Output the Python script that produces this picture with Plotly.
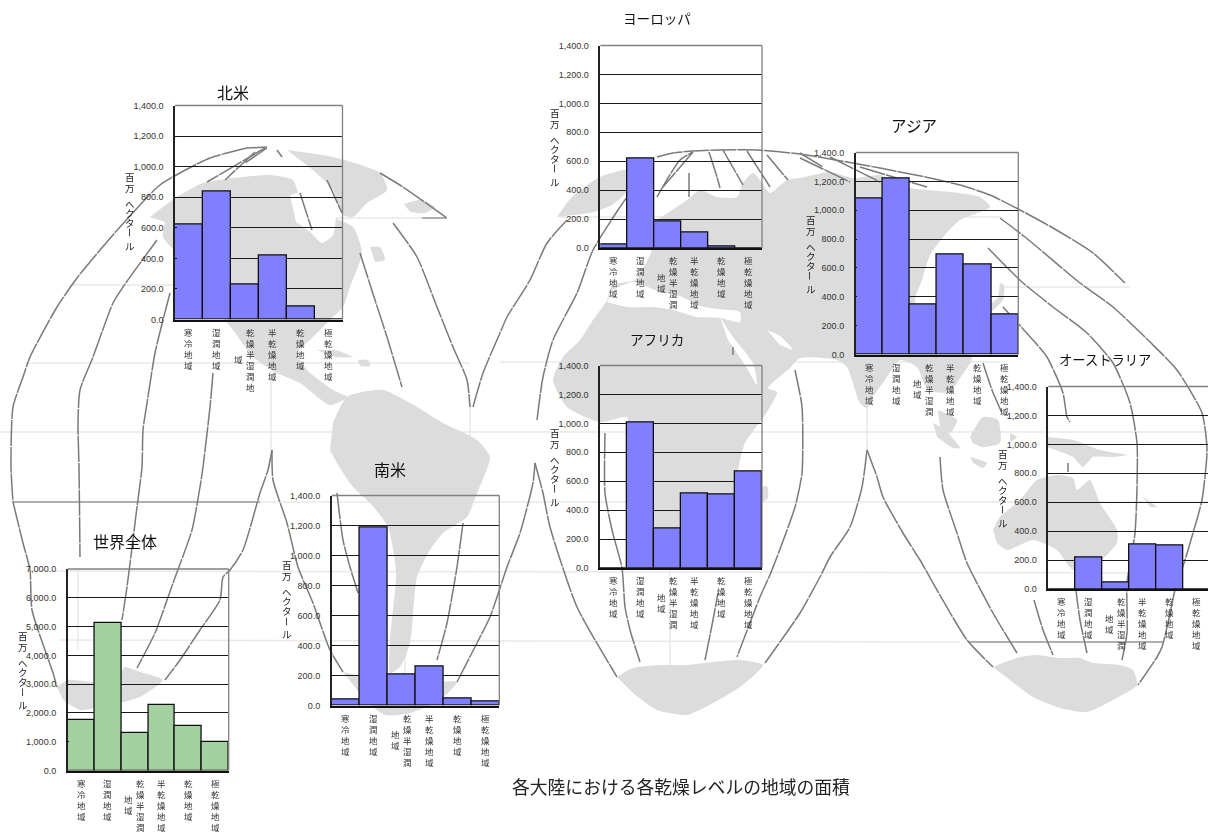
import plotly.graph_objects as go

FIG_W, FIG_H = 1208, 832

# Aridity classes shared by every panel
CATEGORIES = ["寒冷地域", "湿潤地域", "乾燥半湿潤地域", "半乾燥地域", "乾燥地域", "極乾燥地域"]

# Area per class, million hectares
WORLD = [1760, 5110, 1290, 2290, 1560, 990]
NORTH_AMERICA = [620, 835, 230, 420, 85, 0]
SOUTH_AMERICA = [40, 1190, 205, 260, 45, 25]
EUROPE = [25, 620, 185, 105, 10, 0]
ASIA = [1080, 1220, 350, 695, 625, 280]
AFRICA = [0, 1005, 270, 515, 505, 670]
AUSTRALIA = [0, 215, 45, 305, 300, 0]

CONTINENT_TICKS = [0, 200, 400, 600, 800, 1000, 1200, 1400]
WORLD_TICKS = [0, 1000, 2000, 3000, 4000, 5000, 6000, 7000]
AXIS_TITLE = "百万  ヘクタール"
CAPTION = "各大陸における各乾燥レベルの地域の面積"

BLUE = "#8080FF"
GREEN = "#A3D1A0"
LAND = "#DCDCDC"

# name, values, ticks, colour, box (left, top, right, bottom in px), title centre, title size, first wrap length
PANELS = [
    ("北米", NORTH_AMERICA, CONTINENT_TICKS, BLUE, (175, 105.5, 342.5, 319.5), (233, 92), 16, 6),
    ("世界全体", WORLD, WORLD_TICKS, GREEN, (67.7, 569, 228.7, 770.5), (124.5, 541), 16, 5),
    ("南米", SOUTH_AMERICA, CONTINENT_TICKS, BLUE, (331.7, 495.5, 499.3, 705.5), (390, 469), 16, 5),
    ("ヨーロッパ", EUROPE, CONTINENT_TICKS, BLUE, (600.3, 45.5, 762, 248), (657, 18), 13.6, 5),
    ("アジア", ASIA, CONTINENT_TICKS, BLUE, (855.7, 152.5, 1018.3, 354.5), (914, 125), 15.5, 5),
    ("アフリカ", AFRICA, CONTINENT_TICKS, BLUE, (600, 365.5, 762, 568), (657, 339), 13.6, 5),
    ("オーストラリア", AUSTRALIA, CONTINENT_TICKS, BLUE, (1048.3, 386.5, 1210.3, 589), (1105, 359), 13.3, 5),
]

# Background world map in an interrupted projection, traced in page pixels
LAND_SHAPES = [
    # North America
    [(150, 217), (163, 207), (177, 197), (203, 183), (233, 178), (270, 175), (293, 180), (300, 197), (333, 217),
     (353, 227), (362, 253), (350, 287), (343, 307), (333, 317), (310, 340), (297, 353), (307, 370), (333, 390),
     (347, 397), (330, 405), (300, 383), (277, 373), (253, 357), (233, 330), (200, 290), (178, 255), (163, 237),
     (165, 222)],
    # Greenland and Iceland
    [(287, 150), (333, 157), (380, 173), (387, 190), (367, 203), (353, 217), (343, 215), (333, 190), (313, 170)],
    [(404, 204), (420, 200), (435, 207), (425, 213), (410, 212)],
    [(370, 247), (380, 247), (385, 260), (375, 262)],
    [(317, 350), (335, 350), (353, 357), (335, 357)],
    [(358, 360), (368, 360), (370, 366), (360, 366)],
    # South America
    [(333, 423), (347, 397), (383, 390), (417, 407), (443, 423), (477, 440), (490, 457), (477, 493), (467, 517),
     (443, 533), (430, 550), (417, 577), (410, 643), (400, 667), (390, 673), (390, 640), (396, 573), (388, 527),
     (370, 503), (353, 487), (337, 463), (330, 450)],
    # Greenland, right-hand lobe
    [(557, 217), (572, 197), (600, 177), (630, 170), (628, 190), (612, 205), (590, 213)],
    # Eurasia and Africa
    [(657, 220), (687, 200), (700, 190), (717, 197), (737, 197), (743, 183), (753, 173), (760, 180), (770, 193),
     (787, 180), (800, 178), (830, 172), (853, 178), (880, 175), (910, 188), (950, 192), (980, 197), (990, 207),
     (975, 214), (960, 220), (945, 235), (930, 255), (922, 280), (915, 300), (925, 330), (960, 345), (972, 358),
     (960, 378), (950, 392), (935, 392), (925, 385), (917, 367), (900, 360), (885, 380), (873, 397), (867, 408),
     (860, 403), (847, 367), (837, 360), (800, 358), (790, 368), (768, 388), (777, 392), (765, 415), (745, 443),
     (738, 470), (735, 500), (720, 520), (700, 528), (670, 530), (653, 527), (640, 500), (630, 460), (628, 435),
     (627, 417), (600, 422), (567, 407), (553, 380), (563, 357), (580, 340), (593, 320), (607, 300), (612, 285),
     (635, 280), (650, 255), (655, 240)],
    [(762, 487), (767, 486), (768, 498), (762, 502)],
    [(1000, 283), (1004, 285), (1003, 300), (990, 312), (987, 308), (998, 298)],
    # Malay peninsula and islands
    [(938, 410), (957, 420), (950, 433), (940, 427)],
    [(933, 423), (945, 430), (960, 448), (953, 448), (937, 437)],
    [(970, 437), (983, 417), (998, 420), (1000, 443), (983, 447), (973, 443)],
    [(970, 457), (987, 463), (983, 468), (973, 463)],
    [(1010, 433), (1017, 437), (1010, 442)],
    [(1047, 437), (1073, 440), (1100, 450), (1127, 455), (1113, 457), (1093, 457), (1083, 467), (1073, 457), (1047, 447)],
    # Australia and New Zealand
    [(993, 530), (1000, 517), (1020, 500), (1037, 480), (1057, 475), (1073, 478), (1077, 490), (1090, 480), (1100, 503),
     (1117, 530), (1117, 543), (1093, 567), (1073, 570), (1057, 550), (1033, 540), (1007, 550), (997, 543)],
    [(1143, 497), (1157, 507), (1150, 507)],
    # Antarctica, one piece per lobe
    [(57, 687), (68, 680), (93, 682), (120, 673), (125, 667), (140, 672), (163, 680), (140, 697), (100, 707), (80, 710), (63, 700)],
    [(343, 672), (375, 680), (400, 690), (440, 682), (457, 682), (440, 700), (410, 713), (385, 715), (365, 700)],
    [(617, 677), (633, 668), (660, 665), (687, 665), (713, 662), (740, 660), (763, 665), (740, 687), (713, 703), (687, 715), (657, 710), (633, 693)],
    [(993, 667), (1020, 657), (1037, 655), (1060, 658), (1080, 658), (1093, 663), (1120, 665), (1133, 670), (1137, 685),
     (1113, 700), (1087, 712), (1060, 708), (1033, 697), (1010, 680)],
]

SEA_SHAPES = [
    [(290, 195), (310, 190), (335, 210), (333, 235), (322, 243), (310, 232), (296, 222)],
    [(607, 302), (627, 307), (653, 307), (673, 310), (697, 317), (720, 318), (740, 322), (740, 312), (717, 309), (700, 306),
     (680, 296), (660, 292), (633, 282), (612, 290)],
    [(720, 317), (733, 337), (753, 363), (757, 385), (745, 365), (728, 340)],
    [(767, 330), (780, 336), (793, 350), (780, 345)],
]

MERIDIANS = [
    # North American lobe
    [(247, 148), (210, 158), (160, 185), (120, 227), (100, 250), (77, 278), (57, 307), (30, 357), (23, 377), (13, 407), (11, 467), (13, 502)],
    [(157, 240), (123, 287), (113, 303), (93, 357), (80, 390), (78, 423), (79, 467), (80, 557)],
    [(170, 293), (163, 320), (155, 353), (147, 403), (143, 430), (142, 467), (137, 507), (127, 587), (122, 620)],
    [(213, 373), (210, 407), (203, 467), (200, 487), (192, 530), (173, 583), (155, 633), (137, 668)],
    [(272, 450), (268, 470), (260, 493), (243, 550), (230, 570), (223, 577), (220, 600), (200, 630), (180, 660), (165, 680)],
    [(272, 450), (273, 480), (287, 523), (298, 567), (313, 603), (330, 650), (343, 672)],
    [(13, 502), (23, 543), (30, 570), (32, 610), (53, 673), (57, 687)],
    [(380, 173), (403, 187), (447, 218)],
    [(393, 223), (417, 257), (437, 307), (453, 347), (467, 380), (470, 407)],
    [(360, 253), (375, 300), (387, 337), (402, 387)],
    [(327, 180), (342, 213)],
    [(300, 193), (312, 230)],
    [(277, 150), (282, 157)],
    [(267, 147), (247, 148)],
    [(265, 148), (207, 182)],
    [(255, 152), (225, 180)],
    [(267, 148), (245, 163)],
    # South American lobe
    [(337, 493), (343, 540), (350, 567), (358, 593)],
    [(463, 523), (457, 567), (447, 623), (437, 660)],
    [(457, 682), (477, 643), (490, 617), (507, 567), (520, 533), (533, 483), (535, 463)],
    # Eurasian lobe
    [(473, 407), (483, 373), (500, 333), (507, 317), (530, 280), (547, 243), (567, 220)],
    [(537, 420), (543, 377), (553, 340), (577, 293), (593, 250), (618, 210), (627, 197)],
    [(657, 197), (680, 160), (693, 152)],
    [(657, 157), (673, 153), (693, 151), (720, 150), (757, 150), (800, 154), (847, 162), (880, 168), (930, 178), (960, 185),
     (990, 195), (1020, 210), (1053, 228), (1093, 253), (1125, 283)],
    [(693, 152), (663, 187)],
    [(689, 173), (689, 197)],
    [(709, 152), (717, 177), (720, 188)],
    [(723, 150), (743, 185)],
    [(747, 151), (770, 187)],
    [(767, 155), (788, 180)],
    [(800, 153), (823, 167)],
    [(800, 158), (850, 182)],
    [(830, 157), (880, 182)],
    [(860, 167), (927, 187)],
    [(1000, 218), (1025, 237), (1080, 283), (1113, 307), (1150, 342), (1177, 370), (1202, 413), (1207, 450), (1202, 500),
     (1193, 533), (1185, 560), (1175, 590), (1168, 623), (1162, 647), (1157, 657), (1138, 685)],
    [(988, 248), (1022, 282), (1053, 307), (1087, 333), (1113, 363), (1130, 403), (1137, 443), (1137, 487), (1135, 533), (1127, 583), (1127, 633), (1122, 660)],
    [(1003, 307), (1033, 340), (1047, 357), (1063, 393), (1067, 417), (1070, 422)],
    [(1068, 463), (1068, 472)],
    [(1075, 583), (1080, 620), (1087, 653)],
    [(983, 363), (992, 390), (1002, 413)],
    [(1034, 600), (1043, 630), (1053, 655)],
    # African lobe
    [(535, 463), (543, 493), (550, 527), (577, 607), (617, 677)],
    [(605, 433), (605, 493), (612, 530), (622, 568), (625, 607), (630, 630), (640, 662)],
    [(705, 660), (713, 620), (718, 593)],
    [(795, 370), (802, 407), (802, 473), (795, 507), (772, 570), (760, 597), (737, 657)],
    [(733, 347), (733, 355)],
    [(867, 450), (862, 487), (850, 527), (830, 557), (820, 577), (800, 613), (765, 663)],
    # Australian lobe
    [(867, 450), (877, 477), (883, 497), (903, 533), (920, 560), (937, 590), (967, 640), (993, 667)],
    [(940, 457), (943, 490), (957, 533), (967, 563), (993, 613), (1017, 653)],
]

# The darker parallels
STRONG_PARALLELS = [[(13, 502), (260, 502)], [(422, 218), (447, 218)], [(968, 642), (1163, 642)]]

FAINT_GRATICULE = [
    [(0, 432), (1208, 432)], [(70, 285), (345, 285)], [(25, 363), (470, 363)], [(500, 362), (1000, 362)],
    [(260, 502), (1208, 502)], [(30, 571), (1180, 573)], [(60, 640), (960, 642)], [(1000, 287), (1130, 287)],
    [(160, 218), (422, 218)], [(560, 217), (1000, 217)],
    [(271, 360), (271, 450)], [(470, 405), (470, 450)], [(670, 570), (670, 665)], [(867, 405), (867, 450)],
    [(405, 570), (405, 700)], [(78, 570), (78, 650)],
]


def polyline(paths):
    """Join paths into one x/y pair, separated by gaps."""
    xs, ys = [], []
    for path in paths:
        xs += [p[0] for p in path] + [None]
        ys += [p[1] for p in path] + [None]
    return xs, ys


def paper_x(px):
    return px / FIG_W


def paper_y(px):
    return 1 - px / FIG_H


fig = go.Figure()

# Map layer sits on the first axes so each chart paints above it
for paths, colour, filled, width, smooth, dash in [
    (FAINT_GRATICULE, "#E9E9E9", False, 1.5, False, "solid"),
    (LAND_SHAPES, LAND, True, 0, True, "solid"),
    (SEA_SHAPES, "#FFFFFF", True, 0, True, "solid"),
    (STRONG_PARALLELS, "#969696", False, 1.5, False, "solid"),
    (MERIDIANS, "#7A7A7A", False, 1.5, True, "26px,1px"),
]:
    xs, ys = polyline(paths)
    fig.add_trace(go.Scatter(
        x=xs, y=ys, mode="lines", xaxis="x", yaxis="y", hoverinfo="skip", showlegend=False,
        fill="toself" if filled else "none", fillcolor=colour if filled else None,
        line=dict(color=colour, width=width, dash=dash,
                  shape="spline" if smooth else "linear", smoothing=0.6 if smooth else None),
    ))

layout = dict(
    template="none",
    width=FIG_W, height=FIG_H, margin=dict(l=0, r=0, t=0, b=0), autosize=False,
    paper_bgcolor="white", plot_bgcolor="rgba(0,0,0,0)", showlegend=False, bargap=0,
    xaxis=dict(domain=[0, 1], range=[0, FIG_W], visible=False, fixedrange=True, automargin=False),
    yaxis=dict(domain=[0, 1], range=[FIG_H, 0], visible=False, fixedrange=True, automargin=False),
)

JP_FONT = "Noto Sans CJK JP"
annotations = []
shapes = []

for n, (name, values, ticks, colour, box, title_pos, title_size, wrap) in enumerate(PANELS, start=2):
    left, top, right, bottom = box
    slot = (right - left) / len(CATEGORIES)
    # A panel running past the page edge is cut at the edge
    clip_right = min(right, FIG_W)
    x_end = -0.5 + (clip_right - left) / slot
    xname, yname = f"x{n}", f"y{n}"

    fig.add_trace(go.Bar(
        x=list(range(len(CATEGORIES))), y=values, xaxis=xname, yaxis=yname, width=1,
        marker=dict(color=colour, line=dict(color="#111111", width=1.3)),
        hovertext=CATEGORIES, hoverinfo="text+y", showlegend=False,
    ))
    layout[f"xaxis{n}"] = dict(
        domain=[paper_x(left), paper_x(clip_right)], range=[-0.5, x_end], anchor=yname,
        showticklabels=False, ticks="", showgrid=False, zeroline=False, fixedrange=True, automargin=False,
        showline=True, linecolor="#111111", linewidth=2,
    )
    layout[f"yaxis{n}"] = dict(
        domain=[paper_y(bottom), paper_y(top)], range=[ticks[0], ticks[-1]], anchor=xname,
        tickvals=ticks, tickformat=",.1f", ticks="inside", ticklen=2, tickcolor="#111111", automargin=False,
        tickfont=dict(family="Liberation Sans", size=9, color="#333333"), ticklabelstandoff=8,
        showgrid=True, gridcolor="#1A1A1A", gridwidth=1, zeroline=False, fixedrange=True,
        showline=True, linecolor="#222222", linewidth=1.5,
    )

    # Grey top and right frame lines
    shapes.append(dict(type="line", xref="paper", yref="paper", x0=paper_x(left), x1=paper_x(clip_right),
                       y0=paper_y(top), y1=paper_y(top), line=dict(color="#808080", width=1.3)))
    if right <= FIG_W:
        shapes.append(dict(type="line", xref="paper", yref="paper", x0=paper_x(right), x1=paper_x(right),
                           y0=paper_y(top), y1=paper_y(bottom), line=dict(color="#808080", width=1.3)))

    annotations.append(dict(
        text=name, x=paper_x(title_pos[0]), y=paper_y(title_pos[1]), xref="paper", yref="paper",
        showarrow=False, xanchor="center", yanchor="middle",
        font=dict(family=JP_FONT, size=title_size, color="#111111"),
    ))

    # Category labels run downward and wrap into a second column on the left
    line_h = 11.05
    label_font = dict(family=JP_FONT, size=8.5, color="#333333")
    for i, label in enumerate(CATEGORIES):
        first, rest = label[:wrap], label[wrap:]
        annotations.append(dict(
            text="<br>".join(first), x=i, xref=xname, y=0, yref=f"{yname} domain",
            xshift=6 if rest else 0, yshift=-4, showarrow=False, xanchor="center", yanchor="top",
            align="center", font=label_font,
        ))
        if rest:
            drop = (len(first) - len(rest)) * line_h / 2
            annotations.append(dict(
                text="<br>".join(rest), x=i, xref=xname, y=0, yref=f"{yname} domain",
                xshift=-6, yshift=-4 - drop, showarrow=False, xanchor="center", yanchor="top",
                align="center", font=label_font,
            ))

    # Vertical axis title, one glyph at a time so the long vowel mark can turn
    title_x = left - 45
    title_y = top + (bottom - top) * 0.333
    glyphs = [c for c in AXIS_TITLE if c != " "]
    steps = [0, 11, 27, 36, 46, 56, 69]
    for glyph, step in zip(glyphs, steps):
        annotations.append(dict(
            text=glyph, x=paper_x(title_x), y=paper_y(title_y + step), xref="paper", yref="paper",
            showarrow=False, xanchor="center", yanchor="middle",
            textangle=90 if glyph == "ー" else 0,
            font=dict(family=JP_FONT, size=9.5, color="#222222"),
        ))

annotations.append(dict(
    text=CAPTION, x=paper_x(680.5), y=paper_y(785.5), xref="paper", yref="paper",
    showarrow=False, xanchor="center", yanchor="middle",
    font=dict(family=JP_FONT, size=17.8, color="#222222"),
))

layout["annotations"] = annotations
layout["shapes"] = shapes
fig.update_layout(**layout)

# Small CJK glyphs pick up colour fringes from subpixel smoothing; keep them neutral
NEUTRAL_TEXT = """
document.querySelectorAll('.annotation').forEach(function (el) {
    el.style.filter = 'grayscale(1)';
});
"""
fig.write_html("out.html", config=dict(displayModeBar=False), post_script=NEUTRAL_TEXT)
